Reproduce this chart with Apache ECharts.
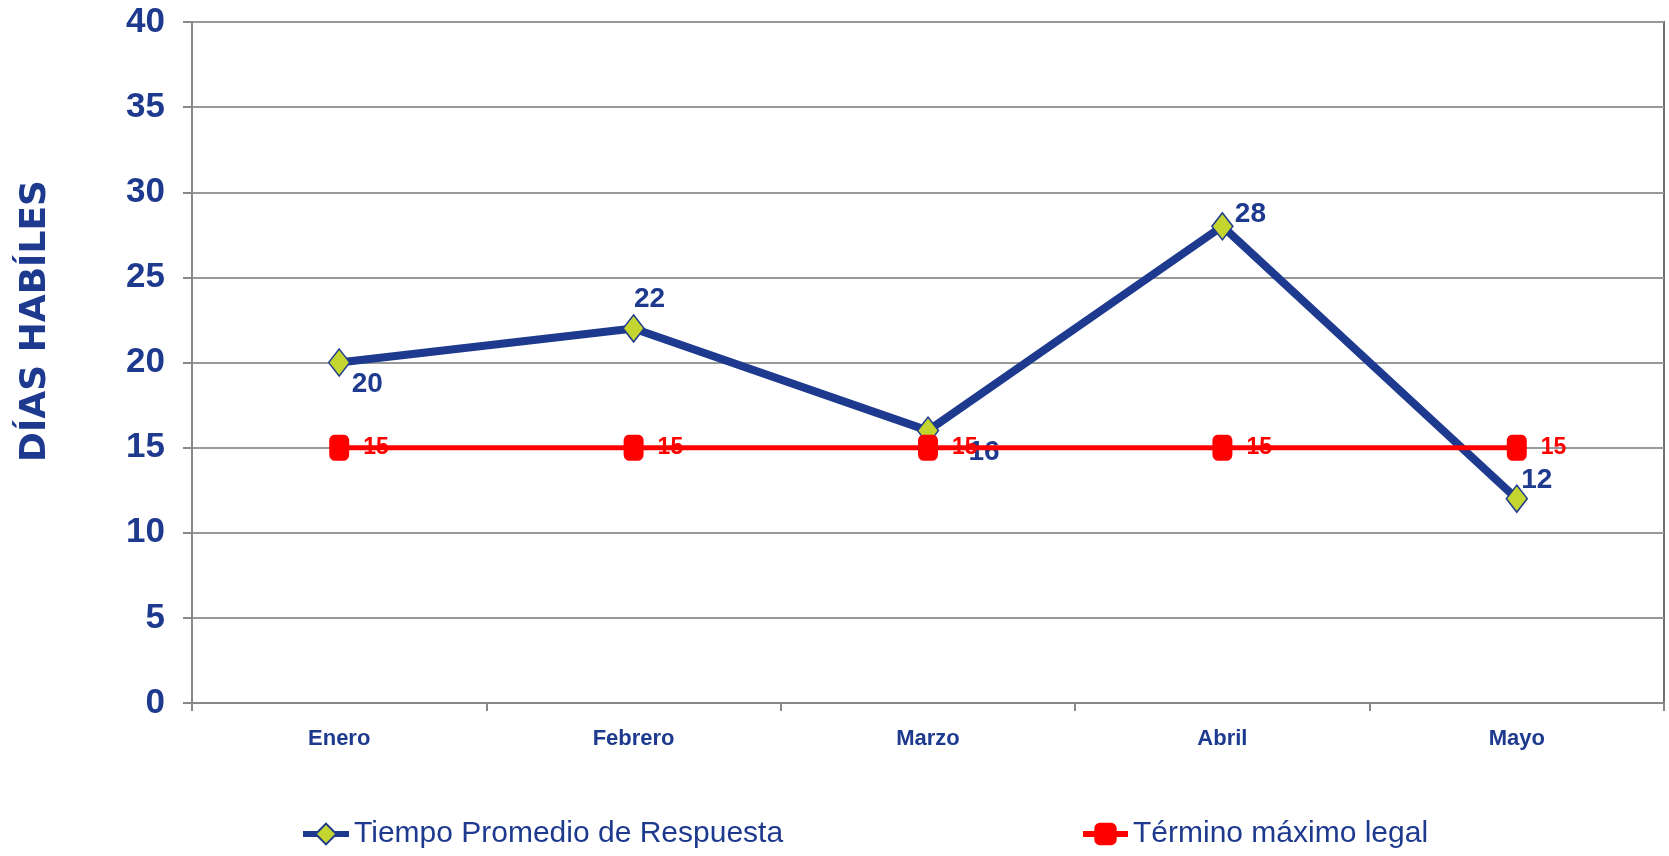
<!DOCTYPE html>
<html lang="es">
<head>
    <meta charset="UTF-8">
    <title>Tiempo Promedio de Respuesta</title>
    <style>
        html, body { margin: 0; padding: 0; background: #fff; }
        #chart { width: 1669px; height: 856px; }
    </style>
    <script src="https://cdn.jsdelivr.net/npm/echarts@6.0.0/dist/echarts.min.js"></script>
</head>
<body>
    <div id="chart"></div>

    <script type="text/javascript">
        // datos
        var meses = ['Enero', 'Febrero', 'Marzo', 'Abril', 'Mayo'];
        var tiempoPromedio = [20, 22, 16, 28, 12];
        var terminoLegal = [15, 15, 15, 15, 15];
        var yTicks = [0, 5, 10, 15, 20, 25, 30, 35, 40];

        var azul = '#1E3A8F';
        var rojo = '#FF0000';
        var fuente = '"Liberation Sans", Arial, sans-serif';

        // desplazamiento de cada etiqueta respecto a su punto
        var offsets = [[28, 22], [16, -29], [56, 22], [28, -12], [20, -18]];

        var chartDom = document.getElementById('chart');
        var myChart = echarts.init(chartDom);

        var option = {
            animation: false,
            grid: {
                left: 192,
                right: 5,
                top: 22,
                bottom: 153,
                outerBoundsMode: 'none',
                containLabel: false,
                show: true,
                borderColor: '#707070',
                borderWidth: 2
            },
            graphic: [{
                type: 'text',
                x: 36,
                y: 321,
                rotation: Math.PI / 2,
                style: {
                    text: 'DÍAS HABÍLES',
                    fill: azul,
                    font: 'bold 36px "DejaVu Sans", sans-serif',
                    align: 'center',
                    verticalAlign: 'middle'
                }
            }],
            legend: [{
                data: ['Tiempo Promedio de Respuesta'],
                left: 295,
                top: 814,
                itemWidth: 46,
                itemHeight: 26,
                lineStyle: { width: 6 },
                textStyle: { color: azul, fontSize: 30, fontFamily: fuente }
            }, {
                data: ['Término máximo legal'],
                left: 1075,
                top: 814,
                itemWidth: 45,
                itemHeight: 28,
                lineStyle: { width: 6 },
                textStyle: { color: azul, fontSize: 30, fontFamily: fuente }
            }],
            xAxis: {
                type: 'category',
                data: meses,
                boundaryGap: true,
                axisLine: { lineStyle: { color: '#888', width: 2 } },
                axisTick: { show: true, length: 8, lineStyle: { color: '#888', width: 2 } },
                axisLabel: {
                    margin: 25,
                    color: azul,
                    fontSize: 22,
                    fontWeight: 'bold',
                    fontFamily: fuente
                }
            },
            yAxis: {
                type: 'value',
                min: yTicks[0],
                max: yTicks[yTicks.length - 1],
                interval: 5,
                axisLine: { show: true, lineStyle: { color: '#888', width: 2 } },
                axisTick: { show: true, length: 9, lineStyle: { color: '#888', width: 2 } },
                splitLine: { lineStyle: { color: '#999', width: 2 } },
                axisLabel: {
                    margin: 27,
                    color: azul,
                    fontSize: 35,
                    fontWeight: 'bold',
                    fontFamily: fuente
                }
            },
            series: [{
                name: 'Tiempo Promedio de Respuesta',
                type: 'line',
                data: tiempoPromedio.map(function (v, i) {
                    return { value: v, label: { offset: offsets[i] } };
                }),
                symbol: 'diamond',
                symbolSize: [21, 27],
                lineStyle: { color: azul, width: 8 },
                itemStyle: { color: '#C3D52E', borderColor: azul, borderWidth: 1.5 },
                label: {
                    show: true,
                    position: 'inside',
                    color: azul,
                    fontSize: 28,
                    fontWeight: 'bold',
                    fontFamily: fuente
                },
                z: 2
            }, {
                name: 'Término máximo legal',
                type: 'line',
                data: terminoLegal,
                symbol: 'roundRect',
                symbolSize: [20, 26],
                lineStyle: { color: rojo, width: 5 },
                itemStyle: { color: rojo },
                label: {
                    show: true,
                    position: 'right',
                    distance: 14,
                    color: rojo,
                    fontSize: 23,
                    fontWeight: 'bold',
                    fontFamily: fuente
                },
                z: 3
            }]
        };
        myChart.setOption(option);
    </script>
</body>
</html>
